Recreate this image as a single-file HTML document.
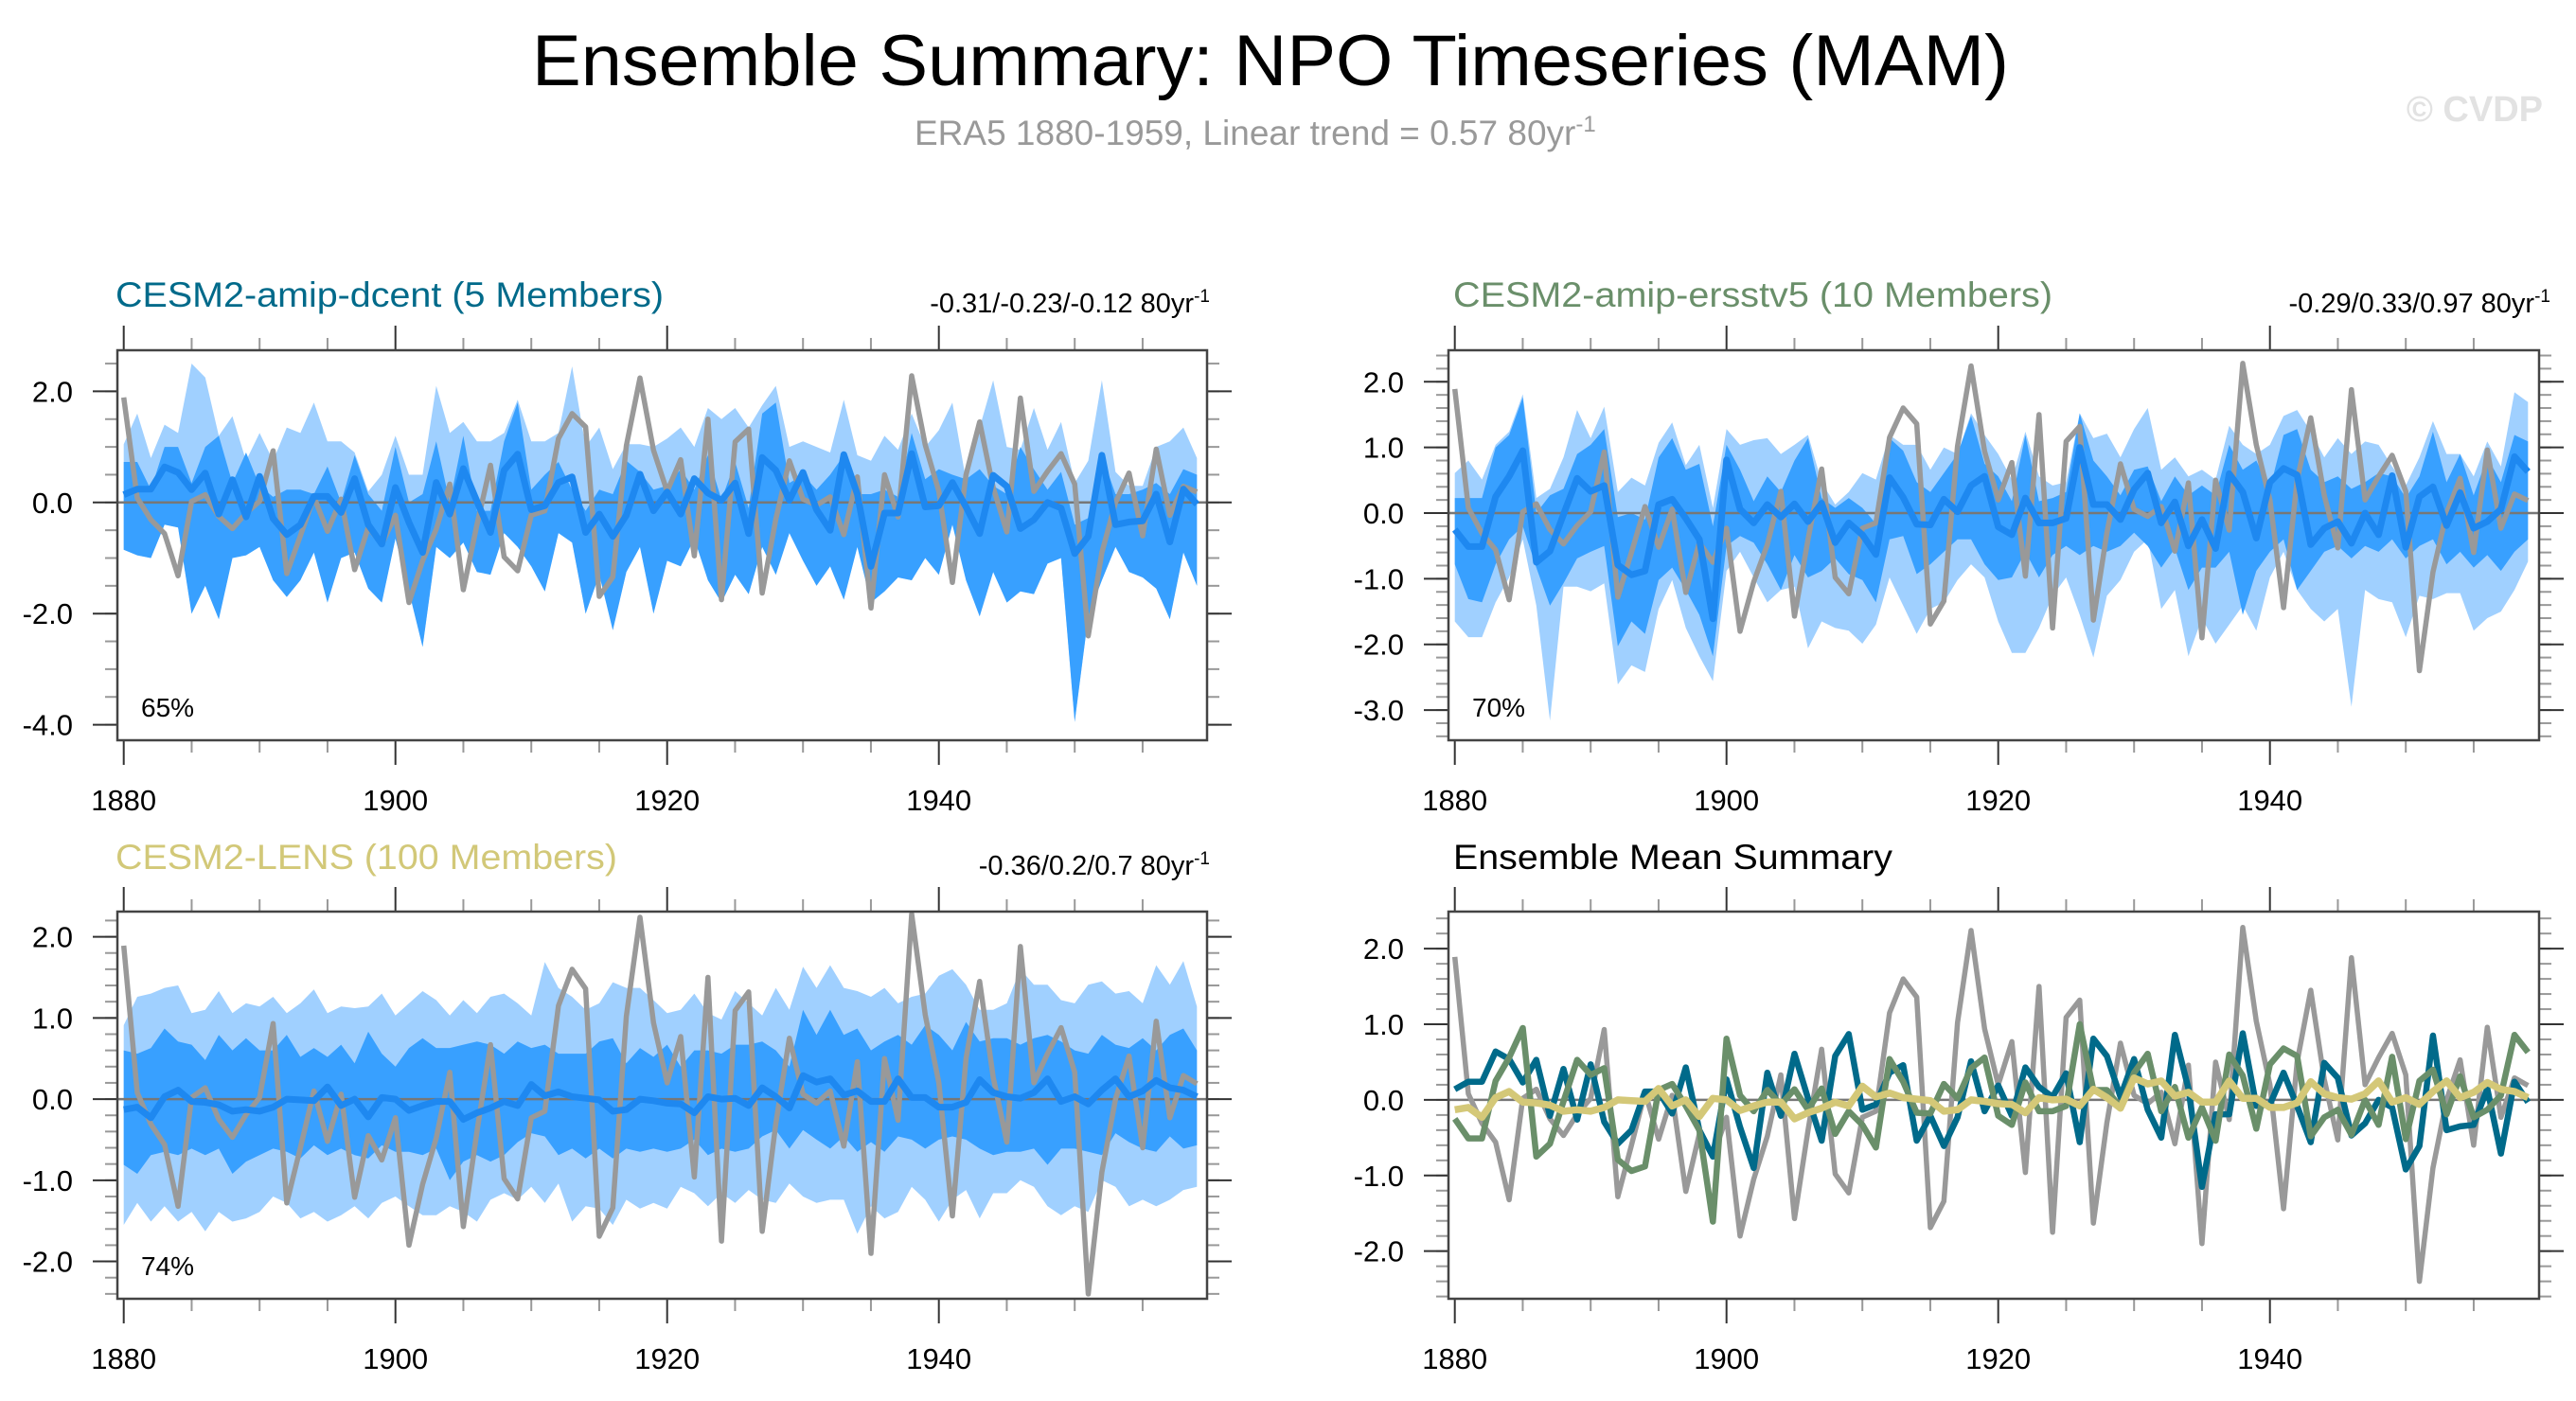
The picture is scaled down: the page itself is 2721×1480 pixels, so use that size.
<!DOCTYPE html>
<html><head><meta charset="utf-8"><title>Ensemble Summary: NPO Timeseries (MAM)</title>
<style>
html,body{margin:0;padding:0;background:#fff;}
svg{display:block;font-family:"Liberation Sans",sans-serif;}
</style></head>
<body>
<svg id="fig" width="2721" height="1480" viewBox="0 0 2721 1480" xmlns="http://www.w3.org/2000/svg">
<text x="1342" y="90" font-size="76" text-anchor="middle" textLength="1560" lengthAdjust="spacingAndGlyphs" fill="#000">Ensemble Summary: NPO Timeseries (MAM)</text>
<text x="966" y="153" font-size="37" fill="#999">ERA5 1880-1959, Linear trend = 0.57 80yr<tspan dy="-14" font-size="24">-1</tspan></text>
<text x="2686" y="128" font-size="38" font-weight="bold" text-anchor="end" fill="#e2e2e2">© CVDP</text>

<text x="122" y="324" font-size="37" fill="#006a8a" textLength="579" lengthAdjust="spacingAndGlyphs">CESM2-amip-dcent (5 Members)</text>
<text x="1278" y="330" font-size="29" text-anchor="end" fill="#000">-0.31/-0.23/-0.12 80yr<tspan dy="-11" font-size="19">-1</tspan></text>
<text x="1535" y="324" font-size="37" fill="#6a8f6a" textLength="633" lengthAdjust="spacingAndGlyphs">CESM2-amip-ersstv5 (10 Members)</text>
<text x="2694" y="330" font-size="29" text-anchor="end" fill="#000">-0.29/0.33/0.97 80yr<tspan dy="-11" font-size="19">-1</tspan></text>
<text x="122" y="918" font-size="37" fill="#d2c878" textLength="530" lengthAdjust="spacingAndGlyphs">CESM2-LENS (100 Members)</text>
<text x="1278" y="924" font-size="29" text-anchor="end" fill="#000">-0.36/0.2/0.7 80yr<tspan dy="-11" font-size="19">-1</tspan></text>
<text x="1535" y="918" font-size="37" fill="#000" textLength="464" lengthAdjust="spacingAndGlyphs">Ensemble Mean Summary</text>
</svg>
<script>
const years = [];
for (let y = 1880; y <= 1959; y++) years.push(y);
const era5 = [1.89,0.08,-0.31,-0.56,-1.32,0.02,0.14,-0.25,-0.47,-0.19,0.02,0.93,-1.28,-0.6,0.1,-0.52,0.06,-1.21,-0.45,-0.75,-0.23,-1.8,-1.05,-0.48,0.33,-1.57,-0.4,0.67,-0.98,-1.23,-0.23,-0.15,1.15,1.6,1.36,-1.69,-1.34,1.02,2.24,0.94,0.2,0.77,-0.96,1.5,-1.75,1.09,1.32,-1.63,-0.3,0.75,0.06,-0.05,0.1,-0.58,0.46,-1.9,0.5,-0.26,2.28,1.04,0.2,-1.44,0.5,1.45,0.27,-0.53,1.88,0.2,0.56,0.88,0.33,-2.4,-0.9,0.0,0.53,-0.6,0.96,-0.23,0.29,0.19];
const dcentMean = [0.14,0.24,0.24,0.64,0.54,0.23,0.53,-0.21,0.41,-0.26,0.47,-0.29,-0.58,-0.4,0.11,0.11,-0.18,0.43,-0.4,-0.75,0.27,-0.36,-0.9,0.36,-0.21,0.61,0.02,-0.54,0.58,0.87,-0.13,-0.06,0.36,0.46,-0.54,-0.21,-0.61,-0.23,0.51,-0.15,0.19,-0.21,0.43,0.17,0.04,0.35,-0.56,0.81,0.58,0.04,0.54,-0.13,-0.5,0.86,0.15,-1.15,-0.19,-0.19,0.88,-0.08,-0.06,0.36,-0.08,-0.56,0.49,0.29,-0.47,-0.31,0,-0.1,-0.92,-0.61,0.85,-0.4,-0.35,-0.33,0.15,-0.71,0.24,-0.03];
const ersstMean = [-0.25,-0.51,-0.51,0.25,0.56,0.95,-0.75,-0.58,-0.02,0.53,0.33,0.42,-0.79,-0.94,-0.88,0.13,0.21,-0.08,-0.4,-1.61,0.81,0.06,-0.15,0.13,-0.06,0.14,-0.13,0.15,-0.45,-0.15,-0.33,-0.63,0.54,0.24,-0.17,-0.18,0.21,0.02,0.42,0.56,-0.21,-0.33,0.23,-0.15,-0.15,-0.08,1.0,0.13,0.13,-0.1,0.36,0.61,-0.15,0.17,-0.5,-0.1,-0.54,0.6,0.32,-0.38,0.47,0.68,0.58,-0.48,-0.23,-0.13,-0.46,0,-0.33,0.57,-0.52,0.25,0.4,-0.19,0.31,-0.23,-0.13,0.06,0.86,0.63];
const lensMean = [-0.13,-0.1,-0.23,0.03,0.11,-0.03,-0.04,-0.07,-0.15,-0.13,-0.15,-0.1,0,-0.01,-0.02,0.15,-0.08,0,-0.22,0.02,0,-0.14,-0.08,-0.03,-0.03,-0.25,-0.17,-0.11,-0.03,-0.08,0.18,0.04,0.09,0.03,0.01,-0.01,-0.15,-0.13,0,-0.02,-0.05,-0.06,-0.17,0.03,0,0.01,-0.08,0.14,0.03,-0.11,0.29,0.21,0.25,0.05,0.1,-0.03,-0.03,0.25,0.02,0.02,-0.1,-0.1,-0.04,0.24,0.08,0.03,0.01,0.08,0.25,-0.03,0.03,-0.06,0.11,0.25,0.03,0.1,0.23,0.14,0.11,0.03];

const dcentMax = [1.05,1.6,0.8,1.4,1.25,2.5,2.25,1.2,1.55,0.75,1.25,0.75,1.35,1.25,1.8,1.1,1.1,0.9,0.2,0.5,1.2,0.5,0.5,2.1,1.25,1.45,1.1,1.1,1.25,1.85,1.1,1.1,1.25,2.45,1.0,1.35,0.6,1.05,1.05,1.0,1.15,1.35,1.0,1.7,1.5,1.7,1.35,1.75,2.1,1.0,1.1,1.0,0.9,1.85,0.85,0.75,1.2,0.95,1.6,1.0,1.3,1.8,0.4,1.35,2.2,1.0,0.95,1.7,0.95,1.45,0.35,0.75,2.2,0.55,0.3,0.3,1.0,1.1,1.35,0.8];
const dcentHi = [0.73,0.73,0.23,1.0,1.0,0.35,1.0,1.2,0.35,0.9,0.3,0.1,0.23,0.23,0.15,0.65,0,0.85,0.15,-0.15,1.0,0,0.15,1.1,0,1.2,-0.15,-0.15,1.1,1.8,0.23,0.5,0.73,0.23,-0.15,0.23,0.15,0.75,0.55,0.23,0.3,0.6,0.23,0.85,0.05,0.73,-0.1,1.6,1.8,0.35,0.5,0.23,0.5,0.85,0.15,0.15,0.23,0.1,1.25,0.42,0.6,0.5,0.42,0.6,0.3,0.15,1.0,0.6,0.23,0.55,-0.4,-0.28,0.85,0.15,0.15,0.23,0.35,0.15,0.6,0.5];
const dcentLo = [-0.85,-0.95,-1.0,-0.4,-0.45,-2.0,-1.5,-2.1,-1.0,-0.95,-0.8,-1.4,-1.7,-1.4,-0.9,-1.8,-1.0,-0.9,-1.55,-1.8,-0.65,-1.6,-2.6,-0.8,-1.0,-0.72,-1.25,-1.3,-0.55,-0.8,-1.15,-1.6,-0.55,-0.72,-2.0,-1.3,-2.3,-1.25,-0.8,-2.0,-1.05,-1.15,-0.65,-1.4,-1.8,-1.3,-1.65,-0.8,-1.3,-0.55,-1.05,-1.5,-1.15,-1.75,-0.8,-1.8,-1.6,-1.35,-1.4,-1.0,-1.3,-0.4,-1.4,-2.05,-1.25,-1.8,-1.6,-1.65,-1.1,-1.0,-3.95,-2.05,-1.4,-0.8,-1.25,-1.35,-1.55,-2.1,-0.9,-1.5];
const dcentMin = dcentLo;

const ersstMax = [0.61,0.8,0.51,1.04,1.24,1.81,0.23,0.37,0.85,1.57,1.14,1.62,0.32,0.54,0.42,1.07,1.38,0.73,1.04,0.08,1.28,1.04,1.11,1.14,0.9,1.04,1.19,0.47,0.13,0.32,0.61,0.51,1.19,1.04,1.04,0.66,1.0,0.9,1.52,1.19,0.9,0.51,1.24,0.56,0.42,0.47,1.52,1.14,1.21,0.85,1.28,1.6,0.66,0.85,0.56,0.66,0.51,1.33,1.04,0.9,1.04,1.48,1.57,1.24,0.85,1.14,0.9,1.09,1.04,0.71,0.42,0.85,1.4,0.9,0.9,0.56,1.09,0.71,1.84,1.69];
const ersstMin = [-1.65,-1.89,-1.89,-1.36,-0.98,-0.4,-1.41,-3.16,-1.12,-1.12,-1.19,-1.07,-2.61,-2.32,-2.42,-1.46,-1.02,-1.75,-2.18,-2.56,-0.88,-0.59,-0.98,-1.36,-1.17,-1.12,-2.06,-1.65,-1.75,-1.79,-1.99,-1.7,-0.98,-1.41,-1.84,-1.46,-1.36,-1.02,-0.78,-0.98,-1.65,-2.13,-2.13,-1.75,-1.26,-0.98,-1.55,-2.2,-1.26,-1.02,-0.59,-0.4,-1.46,-1.17,-2.18,-1.6,-1.99,-1.7,-1.41,-1.79,-0.98,-0.59,-1.17,-1.46,-1.65,-1.46,-2.95,-1.17,-1.31,-1.36,-1.89,-1.26,-1.31,-1.22,-1.22,-1.79,-1.6,-1.5,-1.17,-0.74];
const ersstHi = [0.23,0.23,0.23,1.0,1.19,1.76,0,0.27,0.37,0.9,1.04,1.28,-0.06,0,-0.1,0.85,1.14,0.66,0.75,-0.2,1.04,0.66,0.18,0.56,0.32,0.8,1.14,0.23,0.08,0.23,0.08,-0.16,1.14,0.95,0.47,0.32,0.61,0.9,1.48,0.75,0.56,0.18,1.19,0.18,0.23,0.32,1.52,0.8,0.56,0.27,0.66,0.71,0.18,0.56,0.27,0.42,0.27,1.04,0.66,0.8,0.37,1.19,1.28,0.66,0.47,0.56,0.37,0.47,0.61,0.56,0.23,0.56,1.24,0.47,0.9,0.27,0.85,0.47,1.19,1.09];
const ersstLo = [-0.78,-1.31,-1.36,-0.78,-0.4,-0.2,-0.83,-1.41,-1.07,-0.69,-0.59,-0.5,-2.03,-1.65,-1.84,-1.02,-0.83,-1.17,-1.55,-2.18,-0.5,-0.35,-0.45,-0.78,-1.17,-0.64,-0.98,-0.88,-0.69,-0.93,-1.02,-1.36,-0.4,-0.35,-0.93,-0.78,-0.59,-0.4,-0.4,-0.78,-1.02,-0.98,-0.59,-0.98,-0.64,-0.5,-0.64,-0.5,-0.59,-0.5,-0.3,-0.5,-0.83,-0.54,-1.17,-0.83,-0.83,-0.59,-1.55,-0.88,-0.59,-0.4,-1.17,-0.88,-0.59,-0.5,-0.69,-0.5,-0.59,-0.4,-0.69,-0.5,-0.4,-0.78,-0.59,-0.83,-0.64,-0.88,-0.59,-0.4];

const lensMax = [0.91,1.26,1.3,1.37,1.4,1.06,1.1,1.33,1.06,1.18,1.14,1.26,1.06,1.18,1.35,1.06,1.14,1.12,1.14,1.3,1.03,1.18,1.33,1.22,1.03,1.22,1.06,1.26,1.3,1.18,1.03,1.69,1.37,1.26,1.1,1.18,1.44,1.37,1.37,1.22,1.06,1.1,1.3,1.06,0.98,1.33,1.18,1.03,1.37,1.1,1.63,1.37,1.65,1.37,1.33,1.26,1.37,1.18,1.26,1.3,1.52,1.6,1.41,1.1,1.1,1.18,1.6,1.41,1.41,1.22,1.18,1.41,1.45,1.3,1.33,1.18,1.65,1.41,1.7,1.14];
const lensMin = [-1.55,-1.28,-1.51,-1.32,-1.51,-1.39,-1.63,-1.39,-1.51,-1.47,-1.39,-1.2,-1.28,-1.47,-1.39,-1.51,-1.43,-1.32,-1.47,-1.28,-1.2,-1.32,-1.43,-1.43,-1.32,-1.39,-1.51,-1.24,-1.16,-1.24,-1.08,-1.28,-1.04,-1.51,-1.32,-1.35,-1.55,-1.24,-1.35,-1.28,-1.35,-1.08,-1.16,-1.32,-1.16,-1.28,-1.12,-1.24,-1.28,-1.04,-1.2,-1.28,-1.24,-1.24,-1.66,-1.32,-1.47,-1.39,-1.08,-1.24,-1.51,-1.24,-1.12,-1.47,-1.16,-1.16,-1.0,-1.08,-1.32,-1.43,-1.32,-1.39,-1.0,-1.08,-1.32,-1.24,-1.32,-1.24,-1.12,-1.08];
const lensHi = [0.6,0.56,0.63,0.87,0.71,0.67,0.48,0.79,0.6,0.75,0.6,0.6,0.79,0.52,0.63,0.52,0.67,0.44,0.83,0.56,0.4,0.63,0.75,0.63,0.63,0.67,0.71,0.67,0.56,0.71,0.63,0.67,0.56,0.56,0.56,0.71,0.75,0.44,0.63,0.52,0.67,0.4,0.6,0.6,0.56,0.67,0.67,0.71,0.6,0.4,1.1,0.79,1.1,0.79,0.87,0.6,0.71,0.79,0.67,0.91,0.79,0.6,0.95,0.71,0.75,0.75,0.67,0.75,0.79,0.71,0.6,0.56,0.79,0.67,0.63,0.75,0.6,0.79,0.87,0.6];
const lensLo = [-0.81,-0.92,-0.69,-0.65,-0.69,-0.61,-0.69,-0.61,-0.92,-0.77,-0.69,-0.61,-0.65,-0.73,-0.57,-0.69,-0.61,-0.69,-0.73,-0.57,-0.65,-0.65,-0.69,-0.61,-1.0,-0.77,-0.69,-0.77,-0.69,-0.53,-0.42,-0.46,-0.69,-0.61,-0.73,-0.61,-0.73,-0.61,-0.65,-0.61,-0.65,-0.61,-0.5,-0.69,-0.61,-0.65,-0.61,-0.46,-0.38,-0.61,-0.38,-0.5,-0.61,-0.46,-0.65,-0.53,-0.65,-0.46,-0.5,-0.61,-0.5,-0.46,-0.5,-0.61,-0.69,-0.65,-0.65,-0.61,-0.81,-0.61,-0.61,-0.65,-0.69,-0.42,-0.53,-0.61,-0.65,-0.46,-0.61,-0.57];

const xTickYears = [1880,1900,1920,1940];
const pctLabels = ["65%","70%","74%"];

const NS = "http://www.w3.org/2000/svg";
const svg = document.getElementById("fig");
function el(tag, attrs, parent) {
  const e = document.createElementNS(NS, tag);
  for (const k in attrs) e.setAttribute(k, attrs[k]);
  (parent || svg).appendChild(e);
  return e;
}

const panels = [
  {id:"panel1", x0:124, x1:1275, y0:370, y1:782, vmin:-4.28, vmax:2.74, majors:[-4,-2,0,2], minorStep:0.5, minorFrom:-4, minorTo:2.5},
  {id:"panel2", x0:1530, x1:2682, y0:370, y1:782, vmin:-3.46, vmax:2.48, majors:[-3,-2,-1,0,1,2], minorStep:0.2, minorFrom:-3.4, minorTo:2.4},
  {id:"panel3", x0:124, x1:1275, y0:963, y1:1372, vmin:-2.46, vmax:2.31, majors:[-2,-1,0,1,2], minorStep:0.2, minorFrom:-2.4, minorTo:2.2},
  {id:"panel4", x0:1530, x1:2682, y0:963, y1:1372, vmin:-2.63, vmax:2.49, majors:[-2,-1,0,1,2], minorStep:0.2, minorFrom:-2.6, minorTo:2.4}
];

function makeAxes(p) {
  const xs = yr => p.x0 + 6.7 + (yr - 1880) * 14.35;
  const ys = v => p.y1 - (v - p.vmin) / (p.vmax - p.vmin) * (p.y1 - p.y0);
  return {xs, ys};
}

function linePath(vals, ax) {
  return vals.map((v, i) => (i ? "L" : "M") + ax.xs(years[i]).toFixed(1) + "," + ax.ys(v).toFixed(1)).join(" ");
}
function bandPath(hi, lo, ax) {
  let d = hi.map((v, i) => (i ? "L" : "M") + ax.xs(years[i]).toFixed(1) + "," + ax.ys(v).toFixed(1)).join(" ");
  for (let i = lo.length - 1; i >= 0; i--) d += " L" + ax.xs(years[i]).toFixed(1) + "," + ax.ys(lo[i]).toFixed(1);
  return d + " Z";
}

function drawFrame(p, ax, g) {
  for (let yr = 1880; yr <= 1959; yr += 5) {
    const x = ax.xs(yr);
    const major = (yr % 20 === 0);
    const len = major ? 26 : 13;
    const t1 = el("line", {x1:x, x2:x, y1:p.y0, y2:p.y0 - len, stroke: major ? "#333" : "#999", "stroke-width": 2}, g);
    
    
    const t2 = el("line", {x1:x, x2:x, y1:p.y1, y2:p.y1 + len, stroke: major ? "#333" : "#999", "stroke-width": 2}, g);
    
    
  }
  xTickYears.forEach(yr => {
    const t = el("text", {x: ax.xs(yr), y: p.y1 + 74, "font-size": 31, "text-anchor":"middle", fill:"#000"}, g);
    t.textContent = String(yr);
    
    
  });
  for (let v = p.minorFrom; v <= p.minorTo + 1e-6; v += p.minorStep) {
    const y = ax.ys(v);
    if (y < p.y0 || y > p.y1) continue;
    const m1 = el("line", {x1:p.x0, x2:p.x0 - 13, y1:y, y2:y, stroke:"#999", "stroke-width":2}, g);
    
    
    const m2 = el("line", {x1:p.x1, x2:p.x1 + 13, y1:y, y2:y, stroke:"#999", "stroke-width":2}, g);
    
    
  }
  p.majors.forEach(v => {
    const y = ax.ys(v);
    const a = el("line", {x1:p.x0, x2:p.x0 - 26, y1:y, y2:y, stroke:"#333", "stroke-width":2}, g);
    
    
    const b = el("line", {x1:p.x1, x2:p.x1 + 26, y1:y, y2:y, stroke:"#333", "stroke-width":2}, g);
    
    
    const t = el("text", {x: p.x0 - 47, y: y + 11, "font-size": 31, "text-anchor":"end", fill:"#000"}, g);
    t.textContent = v.toFixed(1);
    
    
  });
  const box = el("rect", {x:p.x0, y:p.y0, width:p.x1 - p.x0, height:p.y1 - p.y0, fill:"none", stroke:"#444", "stroke-width":2.5}, g);
  
  
}

function drawZero(p, ax, g) {
  const z = el("line", {x1:p.x0, x2:p.x1, y1:ax.ys(0), y2:ax.ys(0), stroke:"#777", "stroke-width":2.5}, g);
  
  
}

function drawEnsemblePanel(p, maxA, minA, hiA, loA, meanA, pct) {
  const ax = makeAxes(p);
  const g = el("g", {});
  
  
  const lb = el("path", {d: bandPath(maxA, minA, ax), fill:"#a0d0ff", stroke:"none"}, g);
  
  
  const db = el("path", {d: bandPath(hiA, loA, ax), fill:"#38a0ff", stroke:"none"}, g);
  
  
  drawZero(p, ax, g);
  const gl = el("path", {d: linePath(era5, ax), fill:"none", stroke:"#999", "stroke-width":5.5, "stroke-linejoin":"round"}, g);
  
  
  const ml = el("path", {d: linePath(meanA, ax), fill:"none", stroke:"#1e88f0", "stroke-width":7, "stroke-linejoin":"round"}, g);
  
  
  drawFrame(p, ax, g);
  const t = el("text", {x: p.x0 + 25, y: p.y1 - 25, "font-size": 28, fill:"#000"}, g);
  t.textContent = pct;
  
  
}

drawEnsemblePanel(panels[0], dcentMax, dcentMin, dcentHi, dcentLo, dcentMean, pctLabels[0]);
drawEnsemblePanel(panels[1], ersstMax, ersstMin, ersstHi, ersstLo, ersstMean, pctLabels[1]);
drawEnsemblePanel(panels[2], lensMax, lensMin, lensHi, lensLo, lensMean, pctLabels[2]);

(function(){
  const p = panels[3];
  const ax = makeAxes(p);
  const g = el("g", {});
  
  
  drawZero(p, ax, g);
  const series = [[era5, "#999", 5.5, "era5-line"], [dcentMean, "#006a8a", 6.5, "dcent-mean-line"], [ersstMean, "#6a8f6a", 6.5, "ersstv5-mean-line"], [lensMean, "#d4c878", 7.5, "lens-mean-line"]];
  series.forEach(s => {
    const l = el("path", {d: linePath(s[0], ax), fill:"none", stroke:s[1], "stroke-width":s[2], "stroke-linejoin":"round"}, g);
    
    
  });
  drawFrame(p, ax, g);
})();
</script>
</body></html>
